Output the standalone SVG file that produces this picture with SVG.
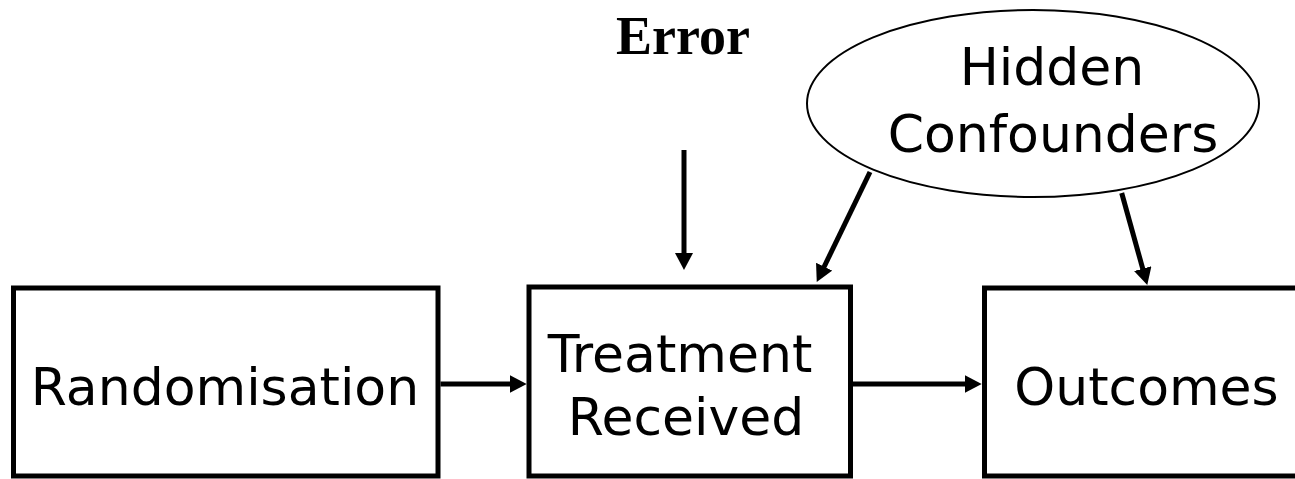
<svg xmlns="http://www.w3.org/2000/svg" width="1295" height="479" viewBox="0 0 1295 479">
  <style>
    .box { fill: #fff; stroke: #000; stroke-width: 5; }
    .oval { fill: #fff; stroke: #000; stroke-width: 2; }
    .label { font-family: "DejaVu Sans", Verdana, sans-serif; font-size: 52px; fill: #000; text-anchor: middle; }
    .title { font-family: "Liberation Serif", "Times New Roman", serif; font-weight: bold; font-size: 54px; fill: #000; text-anchor: middle; }
    .edge { stroke: #000; stroke-width: 5; fill: none; marker-end: url(#arrow); }
  </style>
  <defs>
    <marker id="arrow" viewBox="0 0 17 18" refX="7" refY="9" markerWidth="17" markerHeight="18" markerUnits="userSpaceOnUse" orient="auto">
      <path d="M0,0 L17,9 L0,18 Z" fill="#000"/>
    </marker>
  </defs>

  <g id="randomisation">
    <rect class="box" x="13.5" y="288" width="424.5" height="188"/>
    <text class="label" x="225" y="405">Randomisation</text>
  </g>

  <g id="treatment">
    <rect class="box" x="529" y="287" width="321.5" height="189"/>
    <text class="label" x="680" y="372">Treatment</text>
    <text class="label" x="686" y="435">Received</text>
  </g>

  <g id="outcomes">
    <rect class="box" x="984.5" y="288" width="326" height="188"/>
    <text class="label" x="1146.5" y="405">Outcomes</text>
  </g>

  <g id="hidden-confounders">
    <ellipse class="oval" cx="1033" cy="103.5" rx="226" ry="93.5"/>
    <text class="label" x="1052" y="85">Hidden</text>
    <text class="label" x="1053" y="152">Confounders</text>
  </g>

  <g id="error">
    <text class="title" x="683" y="54">Error</text>
  </g>

  <g id="connectors">
    <line class="edge" x1="440.5" y1="384" x2="516.7" y2="384"/>
    <line class="edge" x1="853" y1="384" x2="971.7" y2="384"/>
    <line class="edge" x1="684" y1="150" x2="684" y2="260"/>
    <line class="edge" x1="870" y1="172" x2="821.1" y2="273"/>
    <line class="edge" x1="1121.7" y1="193" x2="1144.6" y2="275.4"/>
  </g>
</svg>
